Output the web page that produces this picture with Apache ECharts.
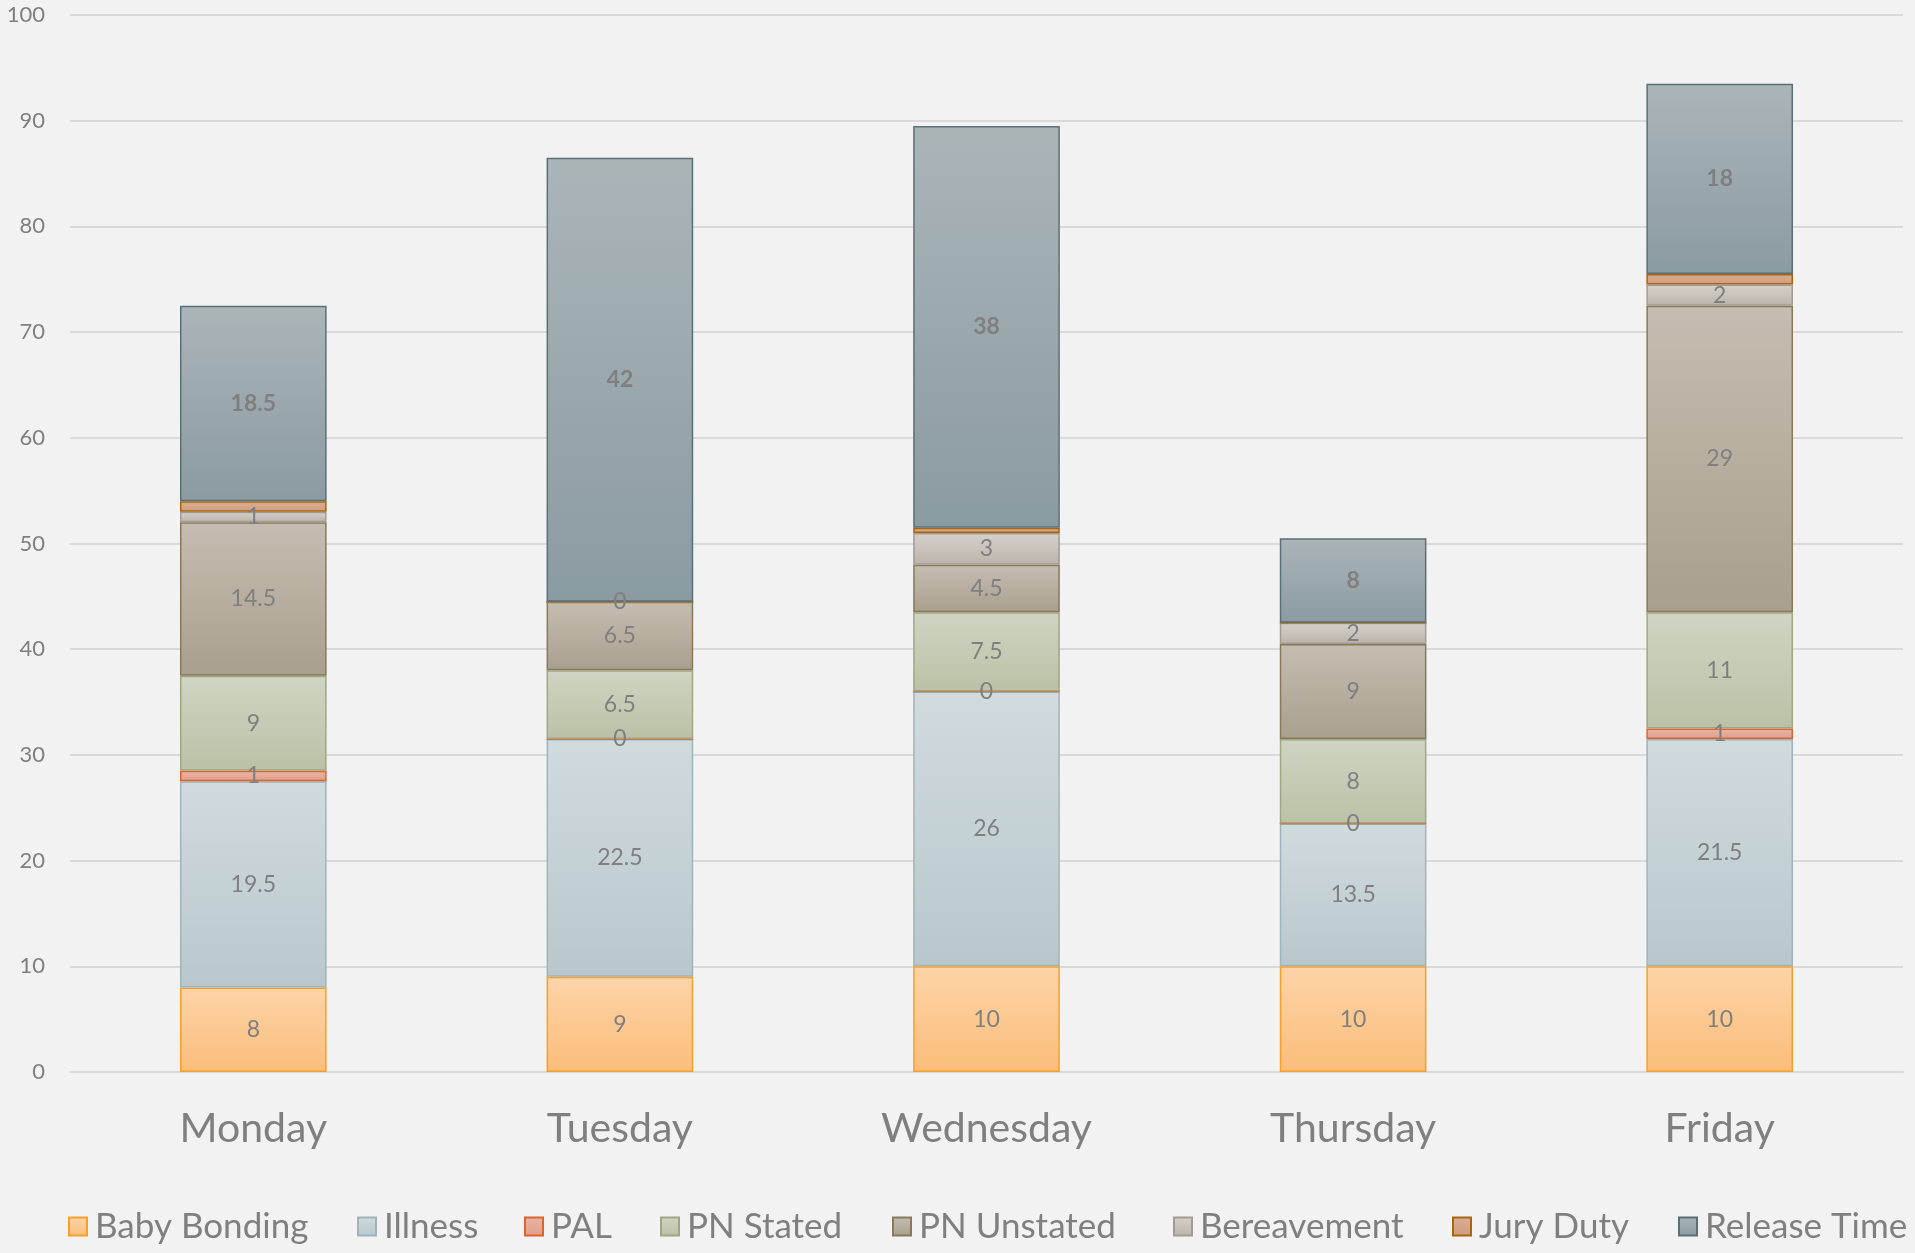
<!DOCTYPE html>
<html>
<head>
<meta charset="utf-8">
<script src="https://cdn.jsdelivr.net/npm/echarts@6/dist/echarts.min.js"></script>
<style>
  html, body { margin: 0; padding: 0; background: #f2f2f2; }
  #chart { width: 1915px; height: 1253px; }
</style>
</head>
<body>
<div id="chart"></div>
<script>
// categories and series values
var days = ['Monday', 'Tuesday', 'Wednesday', 'Thursday', 'Friday'];
var babyBonding = [8, 9, 10, 10, 10];
var illness = [19.5, 22.5, 26, 13.5, 21.5];
var pal = [1, 0, 0, 0, 1];
var pnStated = [9, 6.5, 7.5, 8, 11];
var pnUnstated = [14.5, 6.5, 4.5, 9, 29];
var bereavement = [1, 0, 3, 2, 2];
var juryDuty = [1, 0, 0.5, 0, 1];
var releaseTime = [18.5, 42, 38, 8, 18];

var seriesNames = ['Baby Bonding', 'Illness', 'PAL', 'PN Stated', 'PN Unstated', 'Bereavement', 'Jury Duty', 'Release Time'];
var seriesData = [babyBonding, illness, pal, pnStated, pnUnstated, bereavement, juryDuty, releaseTime];

// [gradient top, gradient bottom, border]
var colors = [
  ['#fdd4a8', '#fbbd7a', '#f5a02a'],
  ['#d0dbde', '#b9c7cc', '#a0b3bb'],
  ['#ebb5a5', '#e09e89', '#d9652e'],
  ['#d0d4c3', '#bbc1a6', '#a0a682'],
  ['#c5bdb1', '#a99f8e', '#87795a'],
  ['#d5d1cb', '#bbb4ac', '#a29b91'],
  ['#d9ae93', '#cf9d80', '#a8650c'],
  ['#aab5b8', '#8b9ba2', '#5b6f77']
];

var legendLeft = [63, 352, 519, 655, 887, 1168, 1447, 1673];

var font = 'Lato, "Open Sans", sans-serif';

function makeSeries(name, i) {
  var c = colors[i];
  return {
    name: name,
    type: 'bar',
    stack: 'total',
    barWidth: '40%',
    data: seriesData[i],
    itemStyle: {
      color: new echarts.graphic.LinearGradient(0, 0, 0, 1, [
        { offset: 0, color: c[0] },
        { offset: 1, color: c[1] }
      ]),
      borderColor: c[2],
      borderWidth: 1.5
    },
    label: {
      show: name !== 'Jury Duty',
      position: 'inside',
      color: '#7f7f7f',
      fontFamily: font,
      fontSize: 23,
      fontWeight: name === 'Release Time' ? 'bold' : 'normal'
    },
    emphasis: { disabled: true }
  };
}

var chart = echarts.init(document.getElementById('chart'));
chart.setOption({
  backgroundColor: '#f2f2f2',
  animation: false,
  textStyle: { fontFamily: font },
  grid: { left: 70, right: 12, top: 15, bottom: 181 },
  legend: seriesNames.map(function (n, i) {
    return {
      data: [n],
      left: legendLeft[i],
      top: 1204,
      icon: 'rect',
      itemWidth: 18,
      itemHeight: 18,
      itemGap: 8,
      textStyle: { color: '#7f7f7f', fontSize: 35, fontFamily: font, padding: [0, 0, 0, 3] },
      selectedMode: false
    };
  }),
  xAxis: {
    type: 'category',
    data: days,
    axisLine: { lineStyle: { color: '#d9d9d9', width: 2 } },
    axisTick: { show: false },
    axisLabel: { color: '#7f7f7f', fontSize: 41, fontFamily: font, margin: 36 }
  },
  yAxis: {
    type: 'value',
    min: 0,
    max: 100,
    interval: 10,
    axisLine: { show: false },
    axisTick: { show: false },
    splitLine: { lineStyle: { color: '#d9d9d9', width: 2 } },
    axisLabel: { color: '#7f7f7f', fontSize: 22, fontFamily: font, margin: 25 }
  },
  series: seriesNames.map(makeSeries)
});
</script>
</body>
</html>
